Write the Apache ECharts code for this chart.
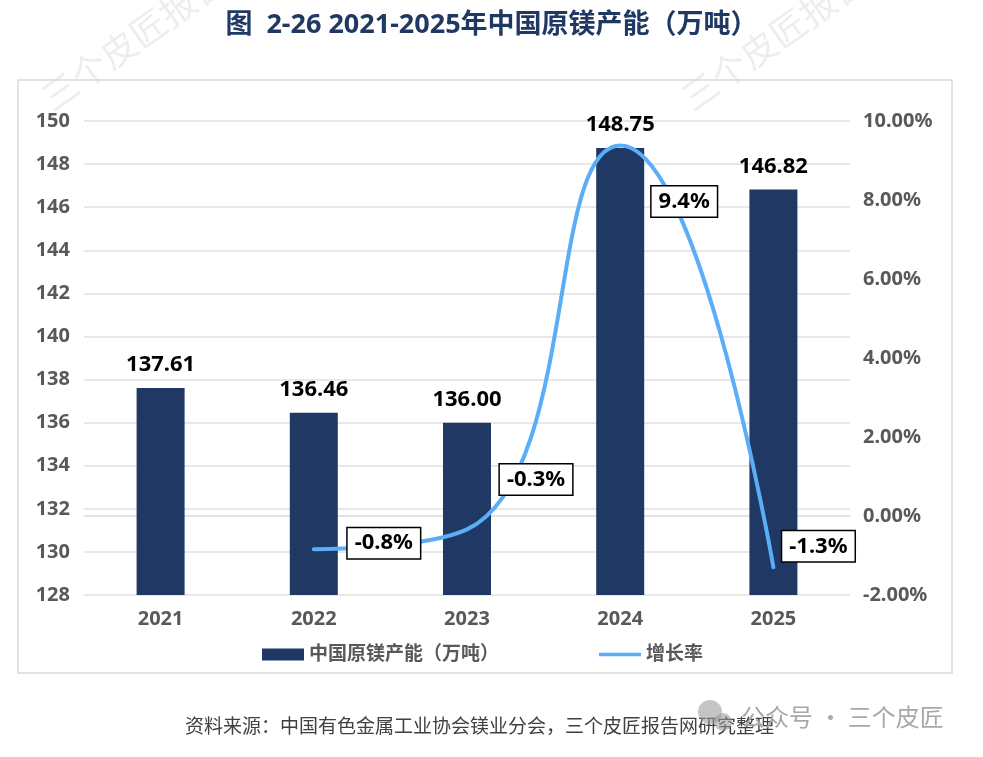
<!DOCTYPE html>
<html lang="zh">
<head>
    <meta charset="UTF-8">
    <title>2021-2025年中国原镁产能</title>
    <style>
        html, body { margin: 0; padding: 0; background: #fff; }
        #container { width: 983px; height: 757px; }
    </style>
    <script src="https://cdn.jsdelivr.net/npm/echarts@6/dist/echarts.min.js"></script>
</head>
<body>
<div id="container"></div>
<script type="text/javascript">
    // 数据
    var years = ['2021', '2022', '2023', '2024', '2025'];
    var capacity = [137.61, 136.46, 136.00, 148.75, 146.82];     // 万吨
    var growth = [null, -0.84, -0.34, 9.38, -1.30];              // %
    var barName = '中国原镁产能（万吨）';
    var lineName = '增长率';

    // 增长率标签框相对数据点的偏移
    var growthLabelOffset = [null, [70, -6], [69, -50], [64, 56], [45, -21]];

    var font = '"Noto Sans", "Noto Sans CJK SC", sans-serif';
    var navy = '#1f3864';
    var blue = '#5badf7';
    var grey = '#595959';

    var myChart = echarts.init(document.getElementById('container'));

    var growthData = growth.map(function (v, i) {
        if (v === null) return null;
        return {
            value: v,
            label: { offset: growthLabelOffset[i] }
        };
    });

    var option = {
        backgroundColor: '#fff',
        animation: false,
        title: {
            text: '图  2-26 2021-2025年中国原镁产能（万吨）',
            left: 'center',
            top: 12,
            padding: 0,
            textStyle: { color: navy, fontSize: 27, fontWeight: 'bold', fontFamily: font }
        },
        legend: {
            left: 257,
            top: 640,
            itemWidth: 42,
            itemHeight: 12,
            itemGap: 100,
            textStyle: { color: grey, fontSize: 19, fontWeight: 'bold', fontFamily: font },
            data: [
                { name: barName, icon: 'rect' },
                { name: lineName, icon: 'path://M0,0 L47,0 L47,4 L0,4 Z' }
            ]
        },
        grid: { left: 84, right: 133, top: 121, bottom: 162 },
        xAxis: {
            type: 'category',
            data: years,
            axisTick: { show: false },
            axisLine: { lineStyle: { color: '#d9d9d9', width: 1.5 } },
            axisLabel: { color: grey, fontSize: 20, fontWeight: 'bold', fontFamily: font, margin: 14 }
        },
        yAxis: [{
            type: 'value',
            min: 128, max: 150, interval: 2,
            axisLine: { show: false },
            axisTick: { show: false },
            splitLine: { lineStyle: { color: '#e0e0e0', width: 1.5 } },
            axisLabel: { color: grey, fontSize: 20, fontWeight: 'bold', fontFamily: font, margin: 14 }
        }, {
            type: 'value',
            min: -2, max: 10, interval: 2,
            axisLine: { show: false },
            axisTick: { show: false },
            splitLine: { show: false },
            axisLabel: {
                color: grey, fontSize: 20, fontWeight: 'bold', fontFamily: font, margin: 13,
                formatter: function (v) { return v.toFixed(2) + '%'; }
            }
        }],
        series: [{
            name: barName,
            type: 'bar',
            data: capacity,
            barWidth: 48,
            itemStyle: { color: navy },
            label: {
                show: true,
                position: 'top',
                distance: 12,
                color: '#000',
                fontSize: 22,
                fontWeight: 'bold',
                fontFamily: font,
                formatter: function (p) { return p.value.toFixed(2); }
            }
        }, {
            name: lineName,
            type: 'line',
            yAxisIndex: 1,
            data: growthData,
            smooth: 0.5,
            symbol: 'circle',
            symbolSize: 2,
            itemStyle: { color: blue },
            lineStyle: { color: blue, width: 4, cap: 'round' },
            z: 5,
            label: {
                show: true,
                position: 'inside',
                color: '#000',
                fontSize: 22,
                fontWeight: 'bold',
                fontFamily: font,
                backgroundColor: '#fff',
                borderColor: '#000',
                borderWidth: 1.5,
                padding: [5, 7, 3, 7],
                formatter: function (p) { return p.value.toFixed(1) + '%'; }
            }
        }],
        graphic: [
            {
                type: 'rect', z: -10, silent: true,
                shape: { x: 18, y: 80, width: 934, height: 593 },
                style: { fill: 'none', stroke: '#d9d9d9', lineWidth: 1.5 }
            },
            {
                type: 'text', x: 56, y: 116, rotation: 0.62, z: -20, silent: true,
                style: { text: '三个皮匠报告', font: '36px "Noto Sans CJK SC"', fill: 'rgba(0,0,0,0.07)', textVerticalAlign: 'bottom' }
            },
            {
                type: 'text', x: 696, y: 116, rotation: 0.62, z: -20, silent: true,
                style: { text: '三个皮匠报告', font: '36px "Noto Sans CJK SC"', fill: 'rgba(0,0,0,0.07)', textVerticalAlign: 'bottom' }
            },
            {
                type: 'text', x: 185, y: 726, silent: true,
                style: { text: '资料来源：中国有色金属工业协会镁业分会，三个皮匠报告网研究整理', font: '19px "Noto Sans CJK SC"', fill: '#404040', textVerticalAlign: 'middle' }
            },
            {
                type: 'circle', silent: true,
                shape: { cx: 710, cy: 712, r: 12 },
                style: { fill: 'rgba(150,150,150,0.55)' }
            },
            {
                type: 'circle', silent: true,
                shape: { cx: 723, cy: 722, r: 9 },
                style: { fill: 'rgba(150,150,150,0.55)' }
            },
            {
                type: 'text', x: 741, y: 717, silent: true,
                style: { text: '公众号 · 三个皮匠', font: '24px "Noto Sans CJK SC"', fill: '#a8a8a8', textVerticalAlign: 'middle' }
            }
        ]
    };

    myChart.setOption(option);
</script>
</body>
</html>
